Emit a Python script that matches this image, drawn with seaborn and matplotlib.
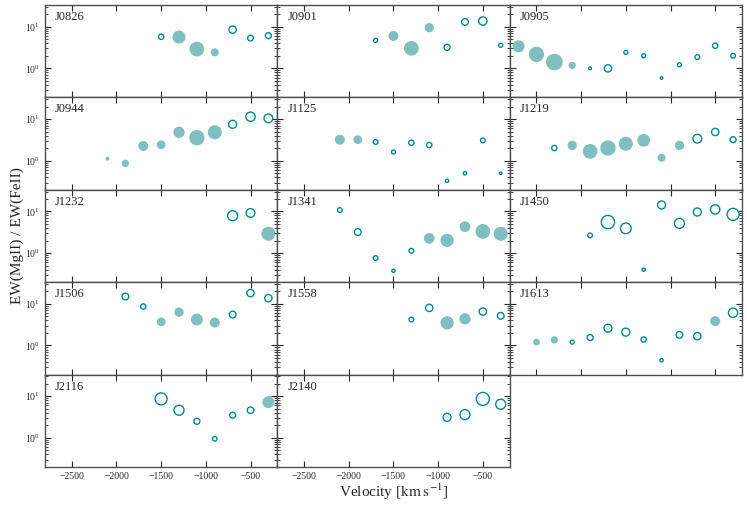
import matplotlib
matplotlib.use("Agg")
import matplotlib.pyplot as plt
import seaborn as sns
import pandas as pd

# velocity [km/s], EW(MgII)/EW(FeII), marker diameter [px], 1 = open marker
J0826_v = [-1500, -1300, -1100, -900, -700, -500, -300]
J0826_r = [5.75, 5.65, 2.91, 2.42, 8.5, 5.35, 6.1]
J0826_d = [5.3, 13, 14.7, 8, 7.3, 5.7, 6]
J0826_o = [1, 0, 0, 0, 1, 1, 1]

J0901_v = [-1700, -1500, -1300, -1100, -900, -700, -500, -300]
J0901_r = [4.7, 6.0, 3.03, 9.5, 3.2, 13.0, 13.7, 3.57]
J0901_d = [4, 10, 14.7, 9.3, 6, 6.7, 8.3, 4]
J0901_o = [1, 0, 0, 0, 1, 1, 1, 1]

J0905_v = [-2700, -2500, -2300, -2100, -1900, -1700, -1500, -1300, -1100, -900, -700, -500, -300]
J0905_r = [3.38, 2.17, 1.42, 1.18, 1.0, 1.0, 2.42, 2.01, 0.585, 1.22, 1.87, 3.49, 2.01]
J0905_d = [12, 15.3, 16.7, 7.3, 2.7, 7.3, 4, 4, 2.5, 4, 4.7, 5.3, 4.7]
J0905_o = [0, 0, 0, 0, 1, 1, 1, 1, 1, 1, 1, 1, 1]

J0944_v = [-2100, -1900, -1700, -1500, -1300, -1100, -900, -700, -500, -300]
J0944_r = [1.12, 0.865, 2.26, 2.42, 4.82, 3.57, 4.82, 7.5, 11.4, 10.4]
J0944_d = [4, 7.3, 10, 8.7, 11.3, 15.3, 14, 8, 9.3, 8.7]
J0944_o = [0, 0, 0, 0, 0, 0, 0, 1, 1, 1]

J1125_v = [-2100, -1900, -1700, -1500, -1300, -1100, -900, -700, -500, -300]
J1125_r = [3.2, 3.2, 2.82, 1.62, 2.71, 2.38, 0.33, 0.5, 3.09, 0.5]
J1125_d = [10, 8.7, 4.7, 4, 5.3, 5.3, 3.3, 3.3, 4.7, 2.5]
J1125_o = [0, 0, 1, 1, 1, 1, 1, 1, 1, 1]

J1219_v = [-2300, -2100, -1900, -1700, -1500, -1300, -1100, -900, -700, -500, -300]
J1219_r = [2.02, 2.34, 1.68, 2.02, 2.56, 3.09, 1.18, 2.34, 3.38, 4.9, 3.2]
J1219_d = [5.3, 9.3, 14.7, 15.3, 14, 12.7, 8, 9.3, 8.7, 7.3, 6]
J1219_o = [1, 0, 0, 0, 0, 0, 0, 0, 1, 1, 1]

J1232_v = [-700, -500, -300]
J1232_r = [7.9, 9.2, 2.91]
J1232_d = [10, 8.7, 14]
J1232_o = [1, 1, 0]

J1341_v = [-2100, -1900, -1700, -1500, -1300, -1100, -900, -700, -500, -300]
J1341_r = [10.8, 3.2, 0.76, 0.376, 1.14, 2.26, 2.02, 4.29, 3.32, 2.91]
J1341_d = [4.7, 6.7, 4.7, 3.3, 4.7, 10.7, 13.3, 10.7, 14.7, 14]
J1341_o = [1, 1, 1, 1, 1, 0, 0, 0, 0, 0]

J1450_v = [-1900, -1700, -1500, -1300, -1100, -900, -700, -500, -300]
J1450_r = [2.66, 5.56, 3.93, 0.4, 14.3, 5.18, 9.7, 11.2, 8.5]
J1450_d = [4.7, 13.3, 10.7, 3.3, 8, 10, 8, 9.3, 12]
J1450_o = [1, 1, 1, 1, 1, 1, 1, 1, 1]

J1506_v = [-1900, -1700, -1500, -1300, -1100, -900, -700, -500, -300]
J1506_r = [15.0, 8.6, 3.69, 6.3, 4.2, 3.55, 5.53, 18.1, 13.7]
J1506_d = [6.7, 5.3, 8.7, 9.3, 12, 10, 6.7, 7.3, 7.3]
J1506_o = [1, 1, 0, 0, 0, 0, 1, 1, 1]

J1558_v = [-1300, -1100, -900, -700, -500, -300]
J1558_r = [4.2, 8.0, 3.49, 4.36, 6.5, 5.15]
J1558_d = [4.7, 7.3, 13.3, 11.3, 7.3, 6.7]
J1558_o = [1, 1, 0, 0, 1, 1]

J1613_v = [-2500, -2300, -2100, -1900, -1700, -1500, -1300, -1100, -900, -700, -500, -300]
J1613_r = [1.2, 1.36, 1.2, 1.55, 2.6, 2.09, 1.39, 0.44, 1.8, 1.67, 3.84, 6.1]
J1613_d = [6.7, 7.3, 4, 6, 8, 8, 5.3, 3.3, 6.7, 7.3, 10, 9.3]
J1613_o = [0, 0, 1, 1, 1, 1, 1, 1, 1, 1, 0, 1]

J2116_v = [-1500, -1300, -1100, -900, -700, -500, -300]
J2116_r = [8.6, 4.6, 2.5, 0.95, 3.5, 4.6, 7.2]
J2116_d = [12, 10, 6, 4.5, 6, 6.5, 12]
J2116_o = [1, 1, 1, 1, 1, 1, 0]

J2140_v = [-900, -700, -500, -300]
J2140_r = [3.1, 3.6, 8.6, 6.4]
J2140_d = [8, 10, 13, 10]
J2140_o = [1, 1, 1, 1]

panels = [
    ("J0826", J0826_v, J0826_r, J0826_d, J0826_o),
    ("J0901", J0901_v, J0901_r, J0901_d, J0901_o),
    ("J0905", J0905_v, J0905_r, J0905_d, J0905_o),
    ("J0944", J0944_v, J0944_r, J0944_d, J0944_o),
    ("J1125", J1125_v, J1125_r, J1125_d, J1125_o),
    ("J1219", J1219_v, J1219_r, J1219_d, J1219_o),
    ("J1232", J1232_v, J1232_r, J1232_d, J1232_o),
    ("J1341", J1341_v, J1341_r, J1341_d, J1341_o),
    ("J1450", J1450_v, J1450_r, J1450_d, J1450_o),
    ("J1506", J1506_v, J1506_r, J1506_d, J1506_o),
    ("J1558", J1558_v, J1558_r, J1558_d, J1558_o),
    ("J1613", J1613_v, J1613_r, J1613_d, J1613_o),
    ("J2116", J2116_v, J2116_r, J2116_d, J2116_o),
    ("J2140", J2140_v, J2140_r, J2140_d, J2140_o),
]

sns.set_style("ticks", {"axes.edgecolor": "0.3", "xtick.color": "0.15", "ytick.color": "0.15"})
plt.rcParams["font.family"] = ["Liberation Serif", "DejaVu Serif"]
plt.rcParams["mathtext.fontset"] = "stix"
plt.rcParams["axes.linewidth"] = 1.0

FILL = "#008080"
EDGE = "#008b8b"
DPI = 100

fig, axes = plt.subplots(5, 3, figsize=(7.47, 5.12), dpi=DPI, sharex=True, sharey=True)
fig.subplots_adjust(left=0.0602, right=0.9933, top=0.990, bottom=0.088, hspace=0, wspace=0)

for ax, (name, v, r, d, o) in zip(axes.flat, panels):
    df = pd.DataFrame({"vel": v, "ratio": r, "diam": d, "open": o})
    df["s"] = (df["diam"] * 72 / DPI) ** 2
    filled = df[df["open"] == 0]
    hollow = df[df["open"] == 1]
    if len(filled):
        sns.scatterplot(data=filled, x="vel", y="ratio", s=filled["s"].values, color=FILL,
                        alpha=0.5, edgecolor="none", linewidth=0, ax=ax, legend=False)
    if len(hollow):
        sns.scatterplot(data=hollow, x="vel", y="ratio", s=hollow["s"].values, color="white",
                        edgecolor=EDGE, linewidth=1.0, ax=ax, legend=False)
    ax.text(0.043, 0.87, name, transform=ax.transAxes, fontsize=9, va="center", ha="left")
    ax.set_xlabel("")
    ax.set_ylabel("")

axes[-1, -1].set_visible(False)

ax0 = axes[0, 0]
ax0.set_yscale("log")
ax0.set_ylim(0.2, 33)
ax0.set_xlim(-2800, -200)
ax0.set_xticks([-2500, -2000, -1500, -1000, -500])

for ax in axes.flat:
    ax.tick_params(which="both", direction="in", top=True, right=True, labelsize=7)
    ax.tick_params(which="major", length=4, width=0.8)
    ax.tick_params(which="minor", length=2, width=0.6)

fig.supxlabel(r"Velocity [$\mathrm{km\;s^{-1}}$]", x=0.527, y=0.039, va="center", fontsize=11)
fig.supylabel("EW(MgII) / EW(FeII)", x=0.014, y=0.539, fontsize=11)

fig.savefig("out.png", dpi=DPI)
